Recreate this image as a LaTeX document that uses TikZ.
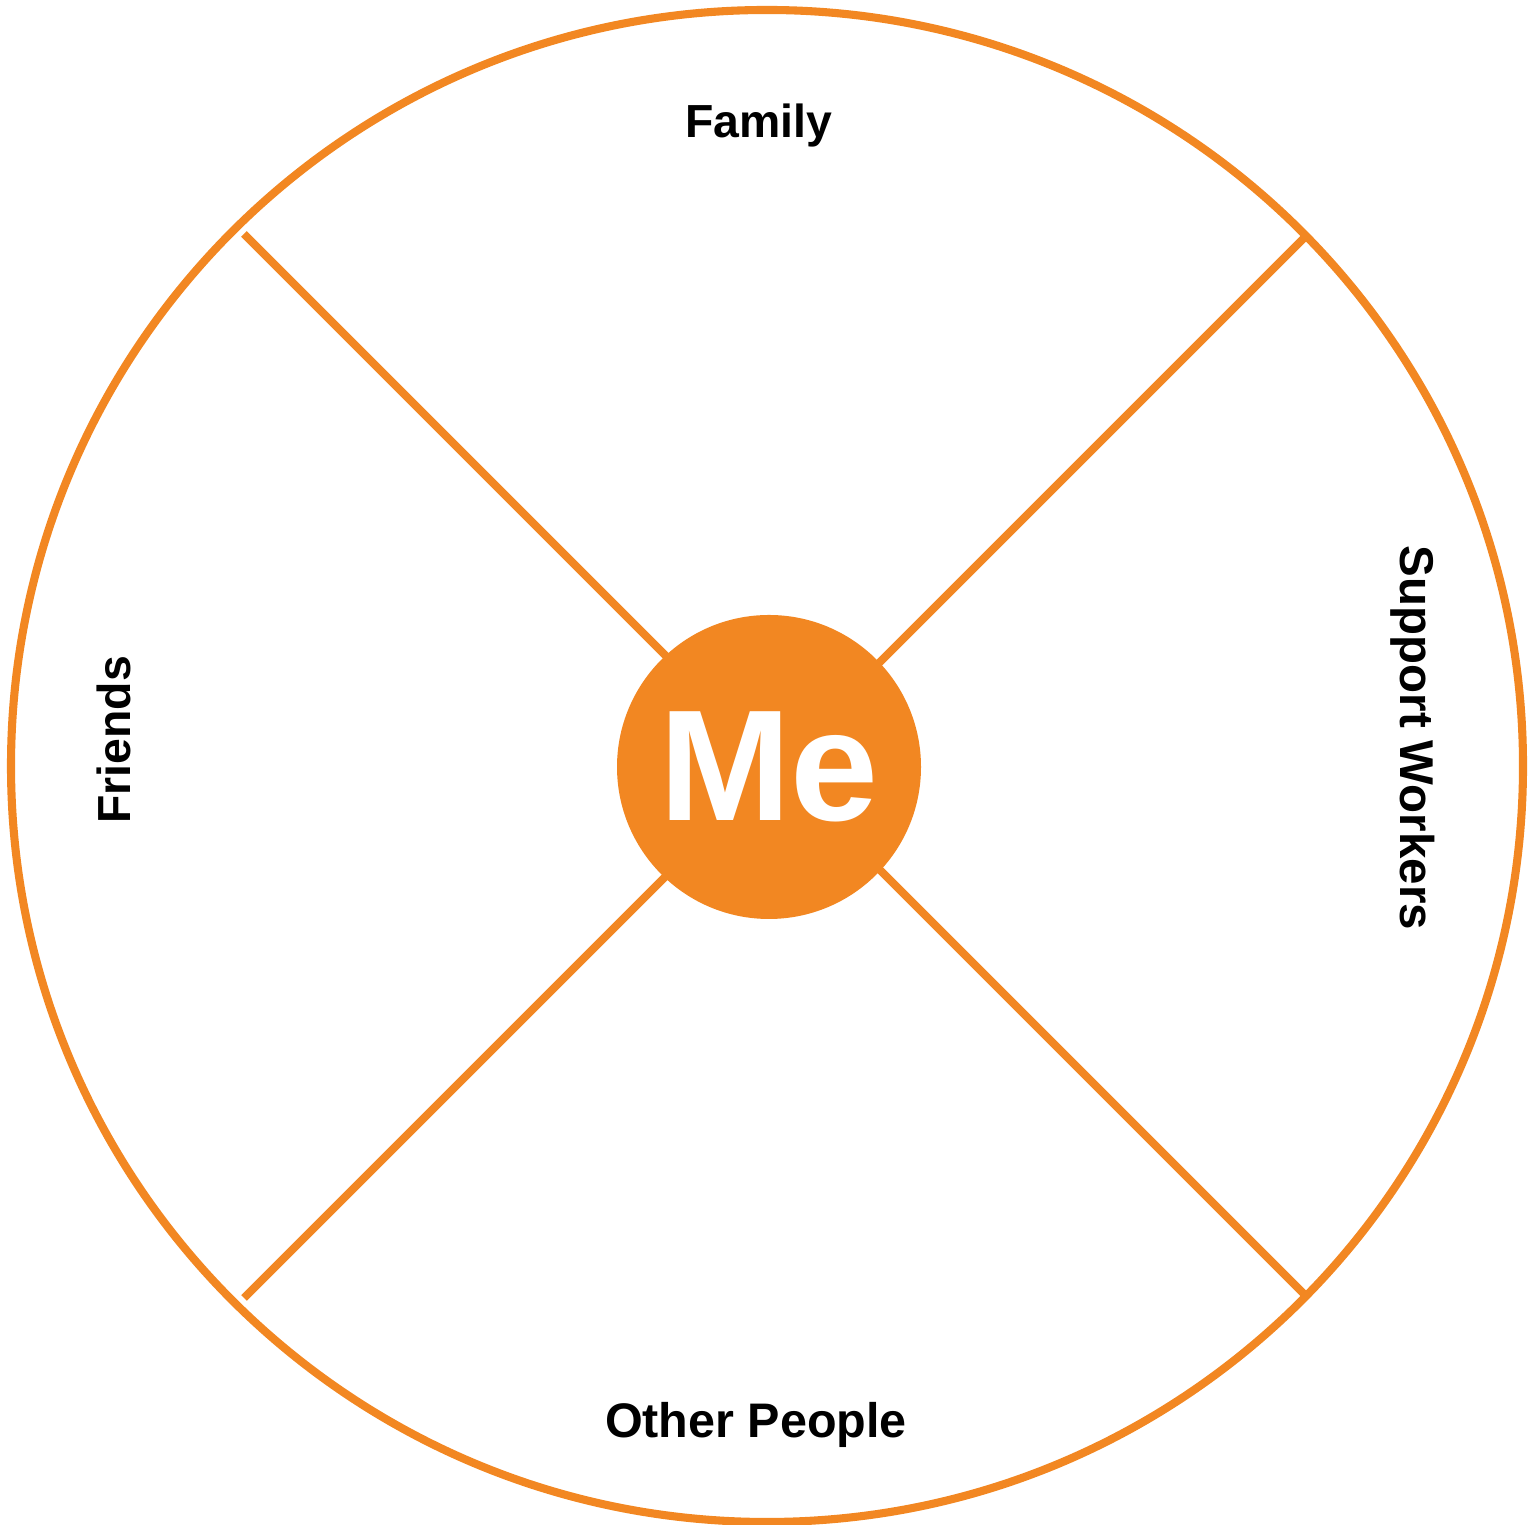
\documentclass[tikz,border=0pt]{standalone}
\usepackage{fontspec}
\setmainfont{Liberation Sans}
\definecolor{meorange}{HTML}{F28722}
\begin{document}
\begin{tikzpicture}[
  ring/.style={circle,draw=meorange,line width=2.3pt,inner sep=0pt,minimum size=15.12cm},
  hub/.style={circle,fill=meorange,inner sep=0pt,minimum size=3.04cm,text=white,font=\fontsize{45pt}{50pt}\selectfont\bfseries},
  spoke/.style={draw=meorange,line width=2.3pt},
  lbl/.style={font=\fontsize{13.2pt}{15pt}\selectfont\bfseries,inner sep=0pt}
]
\useasboundingbox (0,0) rectangle (15.33,15.25);
\node[ring] (outer) at (7.67,7.59) {};
\node[hub] (me) at (7.69,7.58) {Me};
% spoke end points (inner on hub border, outer on ring)
\coordinate (s1) at (6.66,8.69);  \coordinate (e1) at (2.44,12.91);
\coordinate (s2) at (8.79,8.62);  \coordinate (e2) at (13.04,12.87);
\coordinate (s3) at (6.65,6.48);  \coordinate (e3) at (2.44,2.27);
\coordinate (s4) at (8.80,6.55);  \coordinate (e4) at (13.04,2.31);
\draw[spoke] (s1) -- (e1);
\draw[spoke] (s2) -- (e2);
\draw[spoke] (s3) -- (e3);
\draw[spoke] (s4) -- (e4);
\node[lbl,anchor=base] (family) at (7.585,13.87) {Family};
\node[lbl,anchor=base,font=\fontsize{13.8pt}{15pt}\selectfont\bfseries] (other) at (7.56,0.87) {Other People};
\node[lbl,rotate=90,anchor=base] (friends) at (1.30,7.85) {Friends};
\node[lbl,rotate=-90,anchor=base,font=\fontsize{13.5pt}{15pt}\selectfont\bfseries] (support) at (14.00,7.87) {Support Workers};
\end{tikzpicture}
\end{document}
